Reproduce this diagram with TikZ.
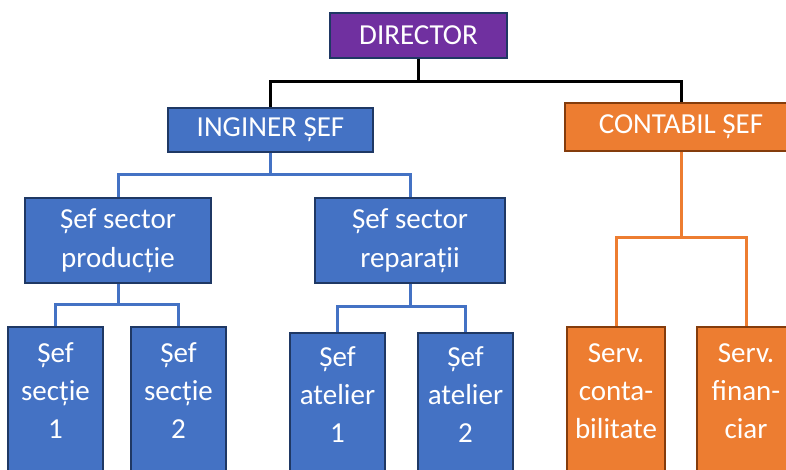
\documentclass[tikz,border=0pt]{standalone}
\usepackage{fontspec}
\setmainfont{Carlito}
\usetikzlibrary{positioning}
\definecolor{dirpurple}{HTML}{7030A0}
\definecolor{navyline}{HTML}{1F3864}
\definecolor{offblue}{HTML}{4472C4}
\definecolor{busblue}{HTML}{2E75B6}
\definecolor{offorange}{HTML}{ED7D31}
\definecolor{brownline}{HTML}{843C0C}
\tikzset{
  bluebox/.style={draw=navyline, line width=2pt, fill=offblue, text=white,
    font=\fontsize{29}{39}\selectfont, align=center, inner sep=0pt},
  orangebox/.style={bluebox, draw=brownline, fill=offorange},
  dirbox/.style={bluebox, fill=dirpurple},
  colbox/.style={anchor=north, minimum width=95pt, minimum height=160pt},
  coltext/.style={text=white, font=\fontsize{29}{38}\selectfont, align=center,
    inner sep=0pt, anchor=base},
  blackbus/.style={line width=3pt, black},
  bluebus/.style={line width=3pt, offblue},
  orangebus/.style={line width=3pt, offorange}
}
\begin{document}
\begin{tikzpicture}[x=1pt, y=-1pt]
\useasboundingbox (0,0) rectangle (786,470);
\clip (0,0) rectangle (786,470);
% top levels
\node[dirbox, minimum width=177pt, minimum height=45pt] (dir) at (418.5,35.5) {DIRECTOR};
\node[bluebox, minimum width=205pt, minimum height=44pt] (ing) at (270.5,130) {INGINER ȘEF};
\node[orangebox, minimum width=232pt, minimum height=48pt] (cont) at (681,127) {CONTABIL ȘEF};
\node[bluebox, minimum width=186pt, minimum height=85pt] (sprod) at (118,240.5) {Șef sector\\producție};
\node[bluebox, minimum width=190pt, minimum height=85pt] (srep) at (410,240.5) {Șef sector\\reparații};
% bottom columns
\node[bluebox, colbox] (sec1) at (55.5,326) {};
\node[bluebox, colbox] (sec2) at (178.5,326) {};
\node[bluebox, colbox] (at1) at (337.5,332) {};
\node[bluebox, colbox] (at2) at (465.5,332) {};
\node[orangebox, colbox, minimum width=98pt] (serv1) at (616,326) {};
\node[orangebox, colbox, minimum width=98pt] (serv2) at (746,326) {};
\node[coltext] (sec1t) at (55.5,438) {Șef\\secție\\1};
\node[coltext] (sec2t) at (178.5,438) {Șef\\secție\\2};
\node[coltext] (at1t) at (337.5,442) {Șef\\atelier\\1};
\node[coltext] (at2t) at (465.5,442) {Șef\\atelier\\2};
\node[coltext] (serv1t) at (616,438) {Serv.\\conta-\\bilitate};
\node[coltext] (serv2t) at (746,438) {Serv.\\finan-\\ciar};
% connectors
\coordinate (dirbus) at (418.5,82);
\coordinate (ingbus) at (270.5,175);
\coordinate (prodbus) at (118,304);
\coordinate (repbus) at (410,306);
\coordinate (contbus) at (681,237);
\draw[blackbus] (dir.south) -- (dirbus);
\draw[blackbus] (ing.north) |- (dirbus) -| (cont.north);
\draw[bluebus] (ing.south) -- (ingbus);
\draw[bluebus] (sprod.north) |- (ingbus) -| (srep.north);
\draw[bluebus] (sprod.south) -- (prodbus);
\draw[bluebus] (sec1.north) |- (prodbus) -| (sec2.north);
\draw[bluebus] (srep.south) -- (repbus);
\draw[bluebus] (at1.north) |- (repbus) -| (at2.north);
\draw[orangebus] (cont.south) -- (contbus);
\draw[orangebus] (serv1.north) |- (contbus) -| (serv2.north);
\end{tikzpicture}
\end{document}
